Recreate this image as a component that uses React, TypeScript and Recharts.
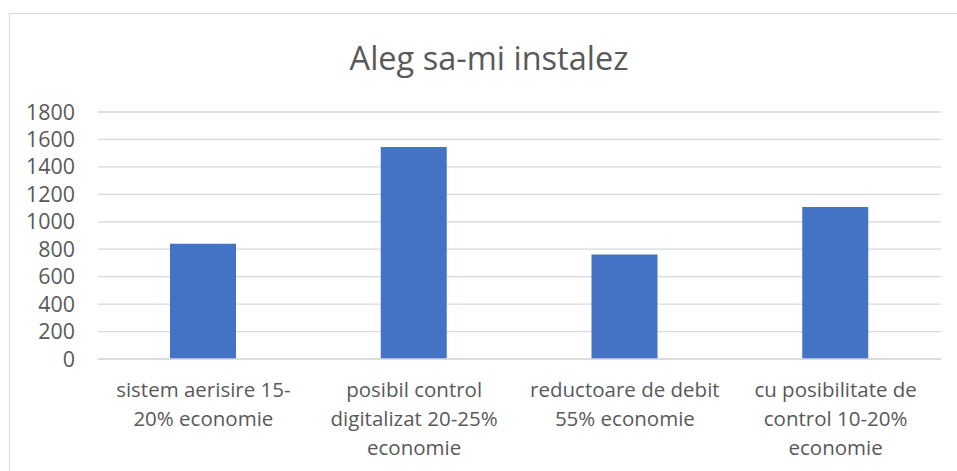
import { BarChart, Bar, XAxis, YAxis, CartesianGrid } from 'recharts';

const categories = [
  'sistem aerisire 15-\n20% economie',
  'posibil control\ndigitalizat 20-25%\neconomie',
  'reductoare de debit\n55% economie',
  'cu posibilitate de\ncontrol 10-20%\neconomie',
];
const values = [840, 1545, 762, 1107];
const yTicks = [0, 200, 400, 600, 800, 1000, 1200, 1400, 1600, 1800];
const title = 'Aleg sa-mi instalez';

const font = '"Open Sans", Lato, sans-serif';
const textColor = '#595959';

const data = categories.map((name, i) => ({ name, value: values[i] }));

function CategoryTick({ x, y, payload }: any) {
  const lines = String(payload.value).split('\n');
  return (
    <text x={x} y={y} textAnchor="middle" fill={textColor} fontSize={20.5} fontFamily={font}>
      {lines.map((line, i) => (
        <tspan key={i} x={x} dy={i === 0 ? 38 : 29}>{line}</tspan>
      ))}
    </text>
  );
}

export default function App() {
  return (
    <div style={{ position: 'fixed', left: 0, top: 0, width: 957, height: 471, background: '#fff', overflow: 'hidden' }}>
      <div style={{
        position: 'absolute', left: 9, top: 13, width: 960, height: 480,
        border: '1px solid #d9d9d9', boxSizing: 'border-box',
      }} />
      <div style={{
        position: 'absolute', left: 9, top: 38, width: 960, textAlign: 'center',
        fontFamily: font, fontSize: 32.5, color: textColor, lineHeight: '40px',
      }}>
        {title}
      </div>
      <div style={{ position: 'absolute', left: 0, top: 0 }}>
        <BarChart width={957} height={471} data={data} margin={{ top: 112, right: 16, left: 0, bottom: 0 }}>
          <CartesianGrid vertical={false} stroke="#d9d9d9" strokeWidth={1.3} />
          <XAxis
            dataKey="name"
            height={112}
            interval={0}
            tickLine={false}
            tickSize={0}
            tickMargin={0}
            axisLine={{ stroke: '#d9d9d9', strokeWidth: 1.3 }}
            tick={<CategoryTick />}
          />
          <YAxis
            width={98}
            domain={[0, 1800]}
            ticks={yTicks}
            interval={0}
            axisLine={false}
            tickLine={false}
            tickSize={0}
            tickMargin={23}
            tick={{ fill: textColor, fontSize: 21.4, fontFamily: font }}
          />
          <Bar dataKey="value" fill="#4472C4" barSize={66} isAnimationActive={false} />
        </BarChart>
      </div>
    </div>
  );
}
